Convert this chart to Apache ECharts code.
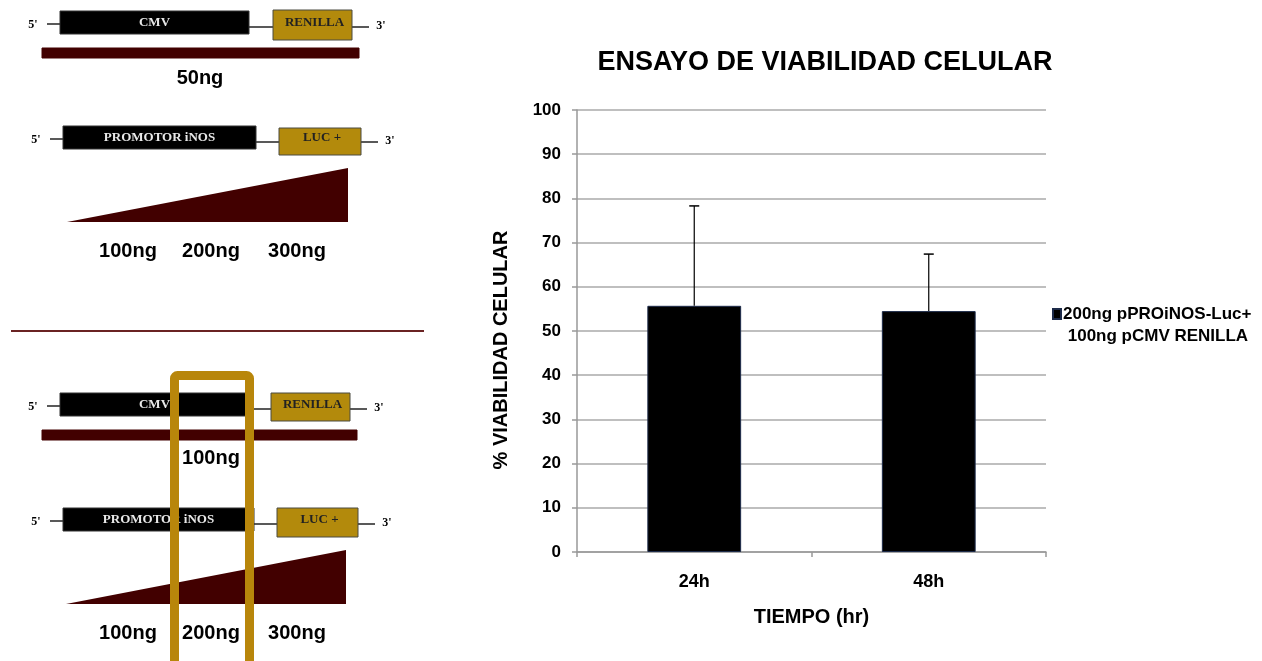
<!DOCTYPE html>
<html>
<head>
<meta charset="utf-8">
<script src="https://cdn.jsdelivr.net/npm/echarts@6/dist/echarts.min.js"></script>
<style>html,body{margin:0;padding:0;background:#fff}#c{width:1262px;height:661px}</style>
</head>
<body>
<div id="c"></div>
<script>
var categories = ['24h', '48h'];
var viability = [55.7, 54.5];
var errorPlus = [22.6, 12.9];
var seriesName = '200ng pPROiNOS-Luc+\n 100ng pCMV RENILLA';
var yTicks = [0, 10, 20, 30, 40, 50, 60, 70, 80, 90, 100];
var topAmounts = ['100ng', '200ng', '300ng'];

var SANS = '"Liberation Sans", Arial, sans-serif';
var SERIF = '"Liberation Serif", "Times New Roman", serif';
var MAROON = '#420000';
var GOLD = '#B38A0C';

function txt(t, x, y, size, color, family, weight) {
  return {type: 'text', z: 5, style: {text: t, x: x, y: y, fill: color || '#000',
    font: (weight || 'bold') + ' ' + size + 'px ' + (family || SANS), align: 'center', verticalAlign: 'middle'}};
}
function ln(x1, y1, x2, y2, w, c) {
  return {type: 'line', z: 3, shape: {x1: x1, y1: y1, x2: x2, y2: y2}, style: {stroke: c || '#222', lineWidth: w || 1.5}};
}
function box(x, y, w, h, fill, stroke) {
  return {type: 'rect', z: 4, shape: {x: x, y: y, width: w, height: h}, style: {fill: fill, stroke: stroke || fill, lineWidth: 1}};
}
function construct(y0, leftLabel, blackX2, goldX1, goldX2, goldLabel, goldTop, goldBot, startX) {
  var els = [];
  els.push(txt("5'", startX - 27, y0 + 14, 12, '#000', SERIF));
  els.push(ln(startX - 13, y0 + 13, startX, y0 + 13));
  els.push(box(startX, y0, blackX2 - startX, 23, '#000', '#333'));
  els.push(txt(leftLabel, (startX + blackX2) / 2, y0 + 12, 13, '#e8e8e8', SERIF));
  els.push(ln(blackX2, y0 + 16, goldX1, y0 + 16));
  els.push(box(goldX1, goldTop, goldX2 - goldX1, goldBot - goldTop, GOLD, '#4a4a40'));
  els.push(txt(goldLabel, (goldX1 + goldX2) / 2 + 2, y0 + 12, 13, '#222', SERIF));
  els.push(ln(goldX2, y0 + 16, goldX2 + 17, y0 + 16));
  els.push(txt("3'", goldX2 + 29, y0 + 15, 12, '#000', SERIF));
  return els;
}

var graphics = [];
// top panel
graphics = graphics.concat(construct(11, 'CMV', 249, 273, 352, 'RENILLA', 10, 40, 60));
graphics.push(box(42, 48, 317, 10, MAROON));
graphics.push(txt('50ng', 200, 78, 20));
graphics = graphics.concat(construct(126, 'PROMOTOR iNOS', 256, 279, 361, 'LUC +', 128, 155, 63));
graphics.push({type: 'polygon', z: 4, shape: {points: [[67, 222], [348, 222], [348, 168]]}, style: {fill: MAROON}});
graphics.push(txt(topAmounts[0], 128, 251, 20));
graphics.push(txt(topAmounts[1], 211, 251, 20));
graphics.push(txt(topAmounts[2], 297, 251, 20));
// separator
graphics.push(ln(11, 331, 424, 331, 2, '#6a2323'));
// bottom panel
graphics = graphics.concat(construct(393, 'CMV', 249, 271, 350, 'RENILLA', 393, 421, 60));
graphics.push(box(42, 430, 315, 10, MAROON));
graphics.push(txt('100ng', 211, 458, 20));
graphics = graphics.concat(construct(508, 'PROMOTOR iNOS', 254, 277, 358, 'LUC +', 508, 537, 63));
graphics.push({type: 'polygon', z: 4, shape: {points: [[66, 604], [346, 604], [346, 550]]}, style: {fill: MAROON}});
graphics.push(txt(topAmounts[0], 128, 633, 20));
graphics.push(txt(topAmounts[1], 211, 633, 20));
graphics.push(txt(topAmounts[2], 297, 633, 20));
// highlight frame
graphics.push({type: 'rect', z: 10, shape: {x: 174.5, y: 375.5, width: 75, height: 320, r: 3}, style: {fill: 'none', stroke: '#B8860B', lineWidth: 9}});

var chart = echarts.init(document.getElementById('c'), null, {renderer: 'canvas'});
chart.setOption({
  animation: false,
  backgroundColor: '#fff',
  title: {
    text: 'ENSAYO DE VIABILIDAD CELULAR', left: 820, top: 44, textAlign: 'center',
    textStyle: {fontFamily: SANS, fontWeight: 'bold', fontSize: 27, color: '#000'}
  },
  legend: {
    data: [seriesName], left: 1052, top: 281, padding: 0, orient: 'vertical', icon: 'rect',
    itemWidth: 8, itemHeight: 10, itemGap: 0,
    formatter: function (name) { return '\n' + name; },
    textStyle: {fontFamily: SANS, fontWeight: 'bold', fontSize: 17, color: '#000', lineHeight: 22, padding: [0, 0, 0, -3]}
  },
  grid: {left: 577, right: 216, top: 110, bottom: 109},
  xAxis: {
    type: 'category', data: categories,
    name: 'TIEMPO (hr)', nameLocation: 'middle', nameGap: 55,
    nameTextStyle: {fontFamily: SANS, fontWeight: 'bold', fontSize: 20, color: '#000'},
    axisLine: {lineStyle: {color: '#999', width: 1.5}},
    axisTick: {show: true, length: 5, lineStyle: {color: '#999', width: 1.5}},
    axisLabel: {margin: 21, fontFamily: SANS, fontWeight: 'bold', fontSize: 18, color: '#000'}
  },
  yAxis: {
    type: 'value', min: 0, max: 100, interval: 10,
    name: '% VIABILIDAD CELULAR', nameLocation: 'middle', nameGap: 66, nameRotate: 90,
    nameTextStyle: {fontFamily: SANS, fontWeight: 'bold', fontSize: 20, color: '#000', padding: [0, 38, 0, 0]},
    axisLine: {show: true, lineStyle: {color: '#999', width: 1.5}},
    axisTick: {show: true, length: 5, lineStyle: {color: '#999', width: 1.5}},
    axisLabel: {margin: 16, fontFamily: SANS, fontWeight: 'bold', fontSize: 17, color: '#000',
      formatter: function (v) { return yTicks.indexOf(v) >= 0 ? String(v) : ''; }},
    splitLine: {lineStyle: {color: '#aaa', width: 1.5}}
  },
  series: [
    {
      name: seriesName, type: 'bar', data: viability, barWidth: '40%',
      itemStyle: {color: '#000', borderColor: '#1d2b4a', borderWidth: 1}
    },
    {
      name: 'error', type: 'custom', z: 5,
      data: categories.map(function (c, i) { return [i, viability[i], viability[i] + errorPlus[i]]; }),
      renderItem: function (params, api) {
        var base = api.coord([api.value(0), api.value(1)]);
        var top = api.coord([api.value(0), api.value(2)]);
        return {type: 'group', children: [
          {type: 'line', shape: {x1: base[0], y1: base[1], x2: top[0], y2: top[1]}, style: {stroke: '#000', lineWidth: 1.2}},
          {type: 'line', shape: {x1: top[0] - 5, y1: top[1], x2: top[0] + 5, y2: top[1]}, style: {stroke: '#000', lineWidth: 1.5}}
        ]};
      }
    }
  ],
  graphic: graphics
});
</script>
</body>
</html>
